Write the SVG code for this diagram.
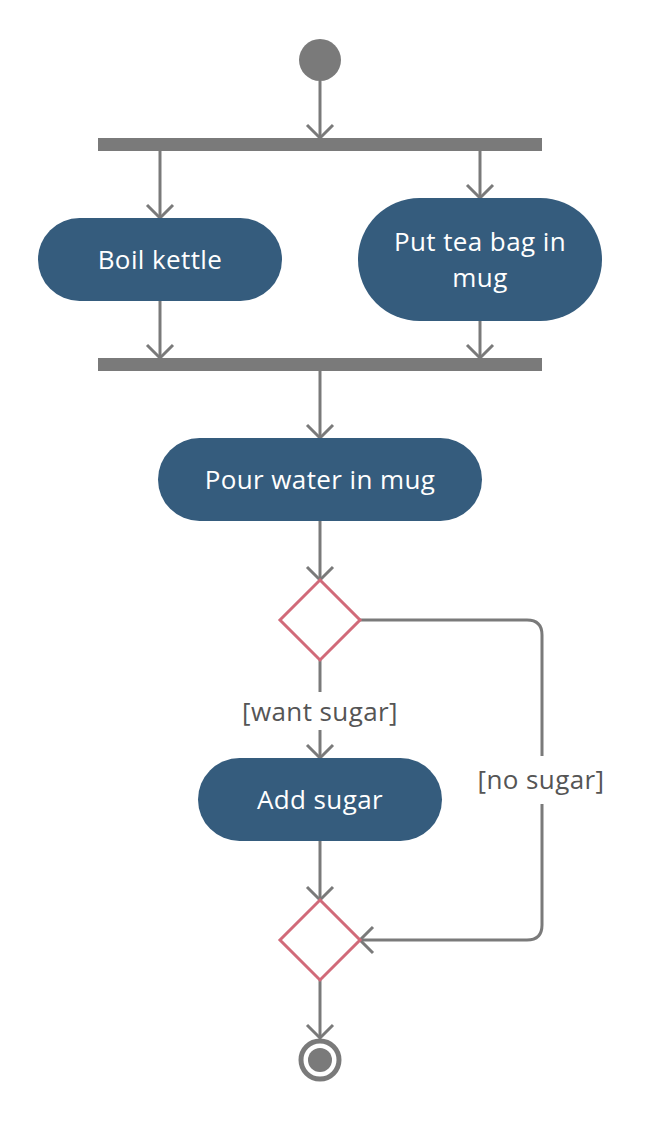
<svg xmlns="http://www.w3.org/2000/svg" width="648" height="1121" viewBox="0 0 648 1121">
<style>
.edge{fill:none;stroke:#7a7a7a;stroke-width:3;stroke-linejoin:round}
.act{fill:#355c7d}
.atext{font-family:"Open Sans","Noto Sans",sans-serif;font-size:26px;letter-spacing:0.4px;fill:#ffffff;text-anchor:middle}
.lbl{font-family:"Open Sans","Noto Sans",sans-serif;font-size:26px;letter-spacing:0.4px;fill:#555555;text-anchor:middle}
.dec{fill:#ffffff;stroke:#d16a79;stroke-width:3}
.bar{fill:#7a7a7a}
</style>
<defs>
<marker id="arr" viewBox="0 0 30 30" refX="16" refY="15" markerWidth="30" markerHeight="30" markerUnits="userSpaceOnUse" orient="auto">
<path d="M3,2 L16,15 L3,28" fill="none" stroke="#7a7a7a" stroke-width="3"/>
</marker>
</defs>
<rect width="648" height="1121" fill="#ffffff"/>
<g id="connectors">
<path class="edge" d="M320,81 L320,138" marker-end="url(#arr)"/>
<path class="edge" d="M160,151 L160,218" marker-end="url(#arr)"/>
<path class="edge" d="M480,151 L480,198" marker-end="url(#arr)"/>
<path class="edge" d="M160,301 L160,358" marker-end="url(#arr)"/>
<path class="edge" d="M480,321 L480,358" marker-end="url(#arr)"/>
<path class="edge" d="M320,371 L320,438" marker-end="url(#arr)"/>
<path class="edge" d="M320,521 L320,580" marker-end="url(#arr)"/>
<path class="edge" d="M320,660 L320,758" marker-end="url(#arr)"/>
<path class="edge" d="M320,841 L320,900" marker-end="url(#arr)"/>
<path class="edge" d="M360,620 L527,620 Q542,620 542,635 L542,925 Q542,940 527,940 L360,940" marker-end="url(#arr)"/>
<path class="edge" d="M320,980 L320,1038" marker-end="url(#arr)"/>
<rect x="300" y="692" width="40" height="38" fill="#ffffff"/>
<text class="lbl" x="320" y="721">[want sugar]</text>
<rect x="470" y="756" width="142" height="48" fill="#ffffff"/>
<text class="lbl" x="541" y="789">[no sugar]</text>
</g>
<g id="start"><circle cx="320" cy="60" r="21" fill="#7a7a7a"/></g>
<g id="fork"><rect class="bar" x="98" y="138" width="444" height="13"/></g>
<g id="boil"><rect class="act" x="38" y="218" width="244" height="83" rx="41.5"/><text class="atext" x="160" y="269">Boil kettle</text></g>
<g id="teabag"><rect class="act" x="358" y="198" width="244" height="123" rx="61.5"/><text class="atext" x="480" y="251">Put tea bag in</text><text class="atext" x="480" y="287">mug</text></g>
<g id="pour"><rect class="act" x="158" y="438" width="324" height="83" rx="41.5"/><text class="atext" x="320" y="489">Pour water in mug</text></g>
<g id="join"><rect class="bar" x="98" y="358" width="444" height="13"/></g>
<g id="decision"><polygon class="dec" points="320,580 360,620 320,660 280,620"/></g>
<g id="sugar"><rect class="act" x="198" y="758" width="244" height="83" rx="41.5"/><text class="atext" x="320" y="809">Add sugar</text></g>
<g id="merge"><polygon class="dec" points="320,900 360,940 320,980 280,940"/></g>
<g id="end"><circle cx="320" cy="1060" r="19" fill="#ffffff" stroke="#7a7a7a" stroke-width="5"/><circle cx="320" cy="1060" r="12" fill="#7a7a7a"/></g>
</svg>
